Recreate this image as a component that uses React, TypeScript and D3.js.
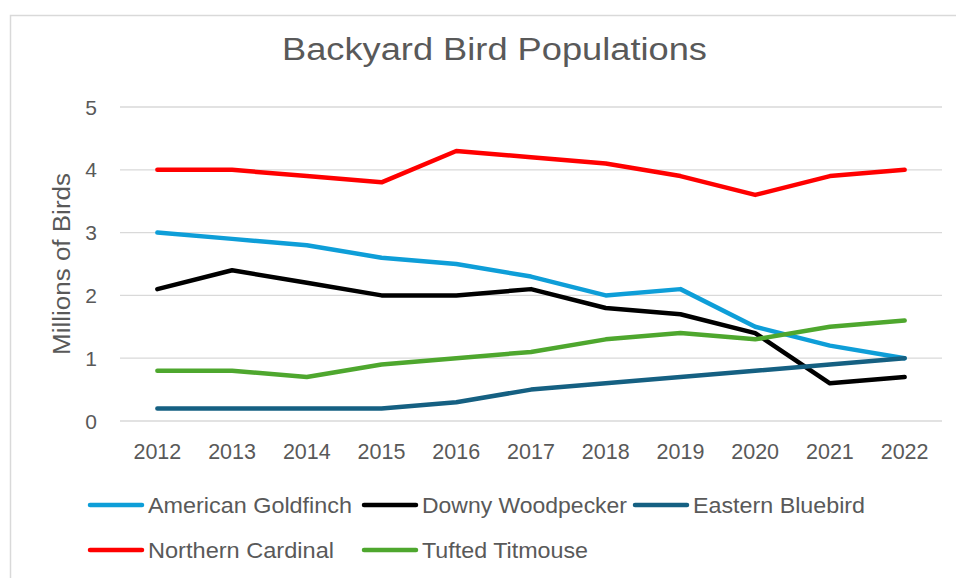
import { useEffect, useRef } from "react";
import * as d3 from "d3";

const years = ["2012", "2013", "2014", "2015", "2016", "2017", "2018", "2019", "2020", "2021", "2022"];
const yTicks = [0, 1, 2, 3, 4, 5];

const goldfinch = [3.0, 2.9, 2.8, 2.6, 2.5, 2.3, 2.0, 2.1, 1.5, 1.2, 1.0];
const woodpecker = [2.1, 2.4, 2.2, 2.0, 2.0, 2.1, 1.8, 1.7, 1.4, 0.6, 0.7];
const bluebird = [0.2, 0.2, 0.2, 0.2, 0.3, 0.5, 0.6, 0.7, 0.8, 0.9, 1.0];
const cardinal = [4.0, 4.0, 3.9, 3.8, 4.3, 4.2, 4.1, 3.9, 3.6, 3.9, 4.0];
const titmouse = [0.8, 0.8, 0.7, 0.9, 1.0, 1.1, 1.3, 1.4, 1.3, 1.5, 1.6];

const seriesNames = ["American Goldfinch", "Downy Woodpecker", "Eastern Bluebird", "Northern Cardinal", "Tufted Titmouse"];
const seriesColors = ["#0e9ed8", "#000000", "#156082", "#ff0000", "#4ea72e"];

const W = 956;
const H = 578;
const FONT = "'Liberation Sans', Arial, sans-serif";
const TEXT = "#595959";

export default function App() {
  const svgRef = useRef<SVGSVGElement | null>(null);

  useEffect(() => {
    const svgEl = svgRef.current;
    if (!svgEl) return;
    const svg = d3.select(svgEl);
    svg.selectAll("*").remove();

    const values = [goldfinch, woodpecker, bluebird, cardinal, titmouse];

    const x = d3.scaleBand<string>().domain(years).range([120, 942]);
    const cx = (yr: string) => (x(yr) ?? 0) + x.bandwidth() / 2;
    const y = d3.scaleLinear().domain([0, 5]).range([421, 107]);

    // chart frame (runs off the right and bottom edge of the crop)
    svg
      .append("rect")
      .attr("x", 10.5)
      .attr("y", 15.5)
      .attr("width", W + 20)
      .attr("height", H)
      .attr("fill", "#fff")
      .attr("stroke", "#d9d9d9")
      .attr("stroke-width", 1.5);

    svg
      .append("text")
      .text("Backyard Bird Populations")
      .attr("x", 282)
      .attr("y", 60)
      .attr("textLength", 425)
      .attr("lengthAdjust", "spacingAndGlyphs")
      .attr("font-family", FONT)
      .attr("font-size", 31)
      .attr("fill", TEXT);

    // gridlines + y labels
    const grid = svg.append("g");
    yTicks.forEach((t) => {
      grid
        .append("line")
        .attr("x1", 120)
        .attr("x2", 942)
        .attr("y1", y(t))
        .attr("y2", y(t))
        .attr("stroke", "#d9d9d9")
        .attr("stroke-width", 1.3);
      grid
        .append("text")
        .text(String(t))
        .attr("x", 97)
        .attr("y", y(t))
        .attr("dy", "0.36em")
        .attr("text-anchor", "end")
        .attr("font-family", FONT)
        .attr("font-size", 21)
        .attr("fill", TEXT);
    });

    years.forEach((yr) => {
      svg
        .append("text")
        .text(yr)
        .attr("x", cx(yr))
        .attr("y", 459)
        .attr("text-anchor", "middle")
        .attr("font-family", FONT)
        .attr("font-size", 21.5)
        .attr("fill", TEXT);
    });

    svg
      .append("text")
      .text("Millions of Birds")
      .attr("transform", "translate(70, 264) rotate(-90)")
      .attr("text-anchor", "middle")
      .attr("textLength", 182)
      .attr("lengthAdjust", "spacingAndGlyphs")
      .attr("font-family", FONT)
      .attr("font-size", 23.5)
      .attr("fill", TEXT);

    const line = d3
      .line<number>()
      .x((_d, i) => cx(years[i]))
      .y((d) => y(d));

    values.forEach((vals, i) => {
      svg
        .append("path")
        .attr("d", line(vals) ?? "")
        .attr("fill", "none")
        .attr("stroke", seriesColors[i])
        .attr("stroke-width", 4.5)
        .attr("stroke-linecap", "round")
        .attr("stroke-linejoin", "round");
    });

    // legend
    const legendPos = [
      { x: 88, y: 505 },
      { x: 362, y: 505 },
      { x: 633, y: 505 },
      { x: 88, y: 550 },
      { x: 362, y: 550 },
    ];
    const legendWidths = [204, 205, 172, 186, 166];
    seriesNames.forEach((name, i) => {
      const p = legendPos[i];
      const g = svg.append("g").attr("transform", `translate(${p.x}, ${p.y})`);
      g.append("line")
        .attr("x1", 2)
        .attr("x2", 54)
        .attr("y1", 0)
        .attr("y2", 0)
        .attr("stroke", seriesColors[i])
        .attr("stroke-width", 4.5)
        .attr("stroke-linecap", "round");
      g.append("text")
        .text(name)
        .attr("x", 60)
        .attr("y", 7.5)
        .attr("textLength", legendWidths[i])
        .attr("lengthAdjust", "spacingAndGlyphs")
        .attr("font-family", FONT)
        .attr("font-size", 22)
        .attr("fill", TEXT);
    });
  }, []);

  return (
    <svg
      ref={svgRef}
      width={W}
      height={H}
      style={{ position: "absolute", left: 0, top: 0, background: "#fff" }}
      role="img"
      aria-label="Backyard Bird Populations line chart"
    />
  );
}
